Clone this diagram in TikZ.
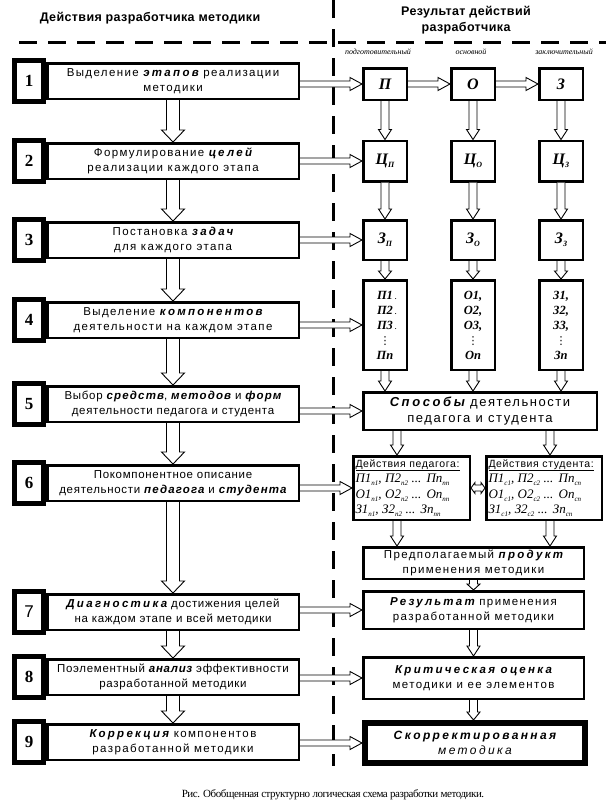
\documentclass[tikz,border=0pt]{standalone}
\usepackage{fontspec}
\usetikzlibrary{calc}
\setmainfont{Liberation Sans}
\newfontfamily\trk[LetterSpace=12]{Liberation Sans}
\newfontfamily\trkn[LetterSpace=6]{Liberation Sans}
\newfontfamily\trkem[LetterSpace=20]{Liberation Sans}
\newfontfamily\trkemn[LetterSpace=10]{Liberation Sans}
\newfontfamily\hdr[LetterSpace=3]{Liberation Sans}
\newfontfamily\tms{Liberation Serif}
\newfontfamily\tmscap[LetterSpace=-4]{Liberation Serif}
\newfontfamily\dvs{DejaVu Sans}
\newcommand\ek[1]{{\trkem\bfseries\itshape #1}}
\newcommand\ekn[1]{{\trkemn\bfseries\itshape #1}}
\newcommand\lo[1]{\raisebox{-3pt}{\fontsize{7}{7}\selectfont #1}}
\newcommand\los[1]{\raisebox{-3pt}{\fontsize{8}{8}\selectfont #1}}
\newcommand\vd{{\dvs\mdseries\upshape\fontsize{11}{11}\selectfont ⋮}}
% hollow arrow: start, end, shaft half width, head half width, head length
\newcommand\harr[5]{%
  \path (#1) coordinate (hs) (#2) coordinate (he);
  \path ($(he)!#5!(hs)$) coordinate (hb);
  \draw[arr] ($(hs)!#3!90:(he)$) -- ($(hb)!#3!90:(he)$) -- ($(hb)!#4!90:(he)$) -- (he)
    -- ($(hb)!#4!-90:(he)$) -- ($(hb)!#3!-90:(he)$) -- ($(hs)!#3!-90:(he)$);
}
\newcommand\dharr[5]{%
  \path (#1) coordinate (hs) (#2) coordinate (he);
  \path ($(he)!#5!(hs)$) coordinate (hb) ($(hs)!#5!(he)$) coordinate (ha);
  \draw[arr] ($(ha)!#3!90:(he)$) -- ($(hb)!#3!90:(he)$) -- ($(hb)!#4!90:(he)$) -- (he)
    -- ($(hb)!#4!-90:(he)$) -- ($(hb)!#3!-90:(he)$) -- ($(ha)!#3!-90:(he)$)
    -- ($(ha)!#4!-90:(he)$) -- (hs) -- ($(ha)!#4!90:(he)$) -- cycle;
}
\newcommand\actline[1]{{\tms\itshape\fontsize{13}{15.5}\selectfont #1}}
\tikzset{
  arr/.style={draw, line width=0.9pt, fill=white, line join=miter},
  divider/.style={line width=3pt, dash pattern=on 18pt off 11pt},
  numbox/.style={draw, line width=5pt, fill=white, minimum width=29pt, minimum height=41pt,
    inner sep=0pt, font=\tms\bfseries\fontsize{17}{17}\selectfont},
  txtbox/.style={draw, line width=2.5pt, fill=white, minimum width=251.5pt, minimum height=35.5pt,
    inner sep=0pt, align=center, font=\trk\fontsize{11.5}{15}\selectfont},
  narrow/.style={font=\trkn\fontsize{11.5}{15}\selectfont},
  smbox/.style={draw, line width=2.5pt, fill=white, minimum width=43.5pt, inner sep=0pt,
    font=\tms\bfseries\itshape\fontsize{16}{16}\selectfont},
  listbox/.style={draw, line width=2.5pt, fill=white, minimum width=43.5pt, minimum height=89.5pt,
    inner sep=0pt, align=center, font=\tms\bfseries\itshape\fontsize{12.5}{15}\selectfont},
  rbox/.style={draw, line width=2.5pt, fill=white, minimum width=220.5pt, inner sep=0pt,
    align=center, font=\trk\fontsize{11.5}{15}\selectfont},
  actbox/.style={draw, line width=2.5pt, fill=white, minimum height=63.5pt, inner sep=0pt,
    align=left, font=\trkn\fontsize{10.5}{15.5}\selectfont},
  stage/.style={font=\tms\itshape\fontsize{8}{8}\selectfont, inner sep=0pt},
  head/.style={font=\hdr\bfseries\fontsize{12.5}{16}\selectfont, align=center, inner sep=0pt},
}
\begin{document}
\begin{tikzpicture}[x=1pt,y=-1pt]
\useasboundingbox (0,0) rectangle (606,811);
\fill[white] (0,0) rectangle (606,811);

% dividers
\draw[divider] (333,0) -- (333,766);
\draw[divider] (19,42) -- (606,42);

% headers
\node[head] (h1) at (150,18) {Действия разработчика методики};
\node[head] (h2) at (466,20) {Результат действий\\разработчика};

% left column
\node[txtbox] (t1) at (173,81)  {Выделение \ek{этапов} реализации\\методики};
\node[txtbox] (t2) at (173,161) {Формулирование \ek{целей}\\реализации каждого этапа};
\node[txtbox] (t3) at (173,240) {Постановка \ek{задач}\\для каждого этапа};
\node[txtbox] (t4) at (173,320) {Выделение \ek{компонентов}\\деятельности на каждом этапе};
\node[txtbox, narrow] (t5) at (173,404) {Выбор \ekn{средств}, \ekn{методов} и \ekn{форм}\\деятельности педагога и студента};
\node[txtbox, narrow] (t6) at (173,483) {Покомпонентное описание\\деятельности \ekn{педагога} и \ekn{студента}};
\node[txtbox, narrow] (t7) at (173,612) {\ek{Диагностика} достижения целей\\на каждом этапе и всей методики};
\node[txtbox, narrow] (t8) at (173,677) {Поэлементный {\bfseries\itshape анализ} эффективности\\разработанной методики};
\node[txtbox] (t9) at (173,742) {\ek{Коррекция} компонентов\\разработанной методики};

\node[numbox] (n1) at (29,81)  {1};
\node[numbox] (n2) at (29,161) {2};
\node[numbox] (n3) at (29,240) {3};
\node[numbox] (n4) at (29,320) {4};
\node[numbox] (n5) at (29,404) {5};
\node[numbox] (n6) at (29,483) {6};
\node[numbox, font=\fontsize{17}{17}\selectfont] (n7) at (29,612) {7};
\node[numbox] (n8) at (29,677) {8};
\node[numbox] (n9) at (29,742) {9};

% stage labels
\node[stage] (s1) at (378,52) {подготовительный};
\node[stage] (s2) at (471,52) {основной};
\node[stage] (s3) at (564,52) {заключительный};

% right column: stages
\node[smbox, minimum height=31.5pt] (P) at (385,84) {П};
\node[smbox, minimum height=31.5pt] (O) at (473,84) {О};
\node[smbox, minimum height=31.5pt] (Z) at (561,84) {З};

\node[smbox, minimum height=40.5pt] (CP) at (385,161) {Ц\los{П}};
\node[smbox, minimum height=40.5pt] (CO) at (473,161) {Ц\los{О}};
\node[smbox, minimum height=40.5pt] (CZ) at (561,161) {Ц\los{З}};

\node[smbox, minimum height=39.5pt] (ZP) at (385,240) {З\los{П}};
\node[smbox, minimum height=39.5pt] (ZO) at (473,240) {З\los{О}};
\node[smbox, minimum height=39.5pt] (ZZ) at (561,240) {З\los{З}};

\node[listbox] (LP) at (385,325) {П1\rlap{\,\fontsize{7}{7}\selectfont .}\\П2\rlap{\,\fontsize{7}{7}\selectfont .}\\П3\rlap{\,\fontsize{7}{7}\selectfont .}\\\vd\\П\textit{n}};
\node[listbox] (LO) at (473,325) {О1,\\О2,\\О3,\\\vd\\О\textit{n}};
\node[listbox] (LZ) at (561,325) {З1,\\З2,\\З3,\\\vd\\З\textit{n}};

\node[rbox, minimum width=233.5pt, minimum height=37.5pt, font=\trk\fontsize{13}{16}\selectfont] (sp) at (480,411)
  {\ek{Способы} деятельности\\педагога и студента};

\node[actbox, minimum width=116.5pt, text width=112pt] (teach) at (411.5,488)
  {\underline{Действия педагога:}\\
   \actline{П1\lo{п1}, П2\lo{п2} ... Пn\lo{пn}}\\
   \actline{О1\lo{п1}, О2\lo{п2} ... Оn\lo{пn}}\\
   \actline{З1\lo{п1}, З2\lo{п2} ... Зn\lo{пn}}};
\node[actbox, minimum width=115.5pt, text width=111pt] (stud) at (544,488)
  {\underline{Действия студента:}\\
   \actline{П1\lo{с1}, П2\lo{с2} ... Пn\lo{сn}}\\
   \actline{О1\lo{с1}, О2\lo{с2} ... Оn\lo{сn}}\\
   \actline{З1\lo{с1}, З2\lo{с2} ... Зn\lo{сn}}};

\node[rbox, minimum height=31.5pt] (prod) at (473.5,563) {Предполагаемый \ek{продукт}\\применения методики};
\node[rbox, minimum height=37.5pt] (res) at (473.5,610) {\ek{Результат} применения\\разработанной методики};
\node[rbox, minimum height=41.5pt] (crit) at (473.5,678) {\ek{Критическая оценка}\\методики и ее элементов};
\node[rbox, line width=6pt, minimum width=220pt, minimum height=40pt, font=\trk\fontsize{12}{15}\selectfont] (corr) at (475,743)
  {\ek{Скорректированная}\\{\trkem\itshape методика}};

% caption
\node[font=\tmscap\fontsize{11}{13}\selectfont, inner sep=0pt] (cap) at (333,795)
  {Рис. Обобщенная структурно логическая схема разработки методики.};

% left vertical arrows
\harr{t1.south}{t2.north}{6.5pt}{11.5pt}{12pt}
\harr{t2.south}{t3.north}{6.5pt}{11.5pt}{12pt}
\harr{t3.south}{t4.north}{6.5pt}{11.5pt}{12pt}
\harr{t4.south}{t5.north}{6.5pt}{11.5pt}{12pt}
\harr{t5.south}{t6.north}{6.5pt}{11.5pt}{12pt}
\harr{t6.south}{t7.north}{6.5pt}{11.5pt}{12pt}
\harr{t7.south}{t8.north}{6.5pt}{11.5pt}{12pt}
\harr{t8.south}{t9.north}{6.5pt}{11.5pt}{12pt}

% horizontal arrows left -> right
\harr{t1.east |- P.west}{P.west}{3pt}{6.5pt}{12pt}
\harr{P.east}{O.west}{3pt}{6.5pt}{12pt}
\harr{O.east}{Z.west}{3pt}{6.5pt}{12pt}
\harr{t2.east |- CP.west}{CP.west}{3pt}{6.5pt}{12pt}
\harr{t3.east |- ZP.west}{ZP.west}{3pt}{6.5pt}{12pt}
\harr{t4.east |- LP.west}{LP.west}{3pt}{6.5pt}{12pt}
\harr{t5.east |- sp.west}{sp.west}{3pt}{6.5pt}{12pt}
\harr{t6.east |- teach.west}{teach.west}{3pt}{6.5pt}{12pt}
\harr{t7.east |- res.west}{res.west}{3pt}{6.5pt}{12pt}
\harr{t8.east |- crit.west}{crit.west}{3pt}{6.5pt}{12pt}
\harr{t9.east |- corr.west}{corr.west}{3pt}{6.5pt}{12pt}

% right vertical arrows
\harr{P.south}{CP.north}{4pt}{6.5pt}{10pt}
\harr{O.south}{CO.north}{4pt}{6.5pt}{10pt}
\harr{Z.south}{CZ.north}{4pt}{6.5pt}{10pt}
\harr{CP.south}{ZP.north}{4pt}{6.5pt}{10pt}
\harr{CO.south}{ZO.north}{4pt}{6.5pt}{10pt}
\harr{CZ.south}{ZZ.north}{4pt}{6.5pt}{10pt}
\harr{ZP.south}{LP.north}{4pt}{6.5pt}{8pt}
\harr{ZO.south}{LO.north}{4pt}{6.5pt}{8pt}
\harr{ZZ.south}{LZ.north}{4pt}{6.5pt}{8pt}
\harr{LP.south}{sp.north -| LP.south}{4pt}{6.5pt}{10pt}
\harr{LO.south}{sp.north -| LO.south}{4pt}{6.5pt}{10pt}
\harr{LZ.south}{sp.north -| LZ.south}{4pt}{6.5pt}{10pt}

\coordinate (xa) at (397,0);
\coordinate (xb) at (550,0);
\harr{sp.south -| xa}{teach.north -| xa}{4pt}{6.5pt}{10pt}
\harr{sp.south -| xb}{stud.north -| xb}{4pt}{6.5pt}{10pt}
\harr{teach.south -| xa}{prod.north -| xa}{4pt}{6.5pt}{10pt}
\harr{stud.south -| xb}{prod.north -| xb}{4pt}{6.5pt}{10pt}
\harr{prod.south}{res.north}{4pt}{6.5pt}{6pt}
\harr{res.south}{crit.north}{4pt}{6.5pt}{10pt}
\harr{crit.south}{corr.north -| crit.south}{4pt}{6.5pt}{8pt}
\dharr{teach.east}{stud.west}{3pt}{5.5pt}{4pt}
\end{tikzpicture}
\end{document}
